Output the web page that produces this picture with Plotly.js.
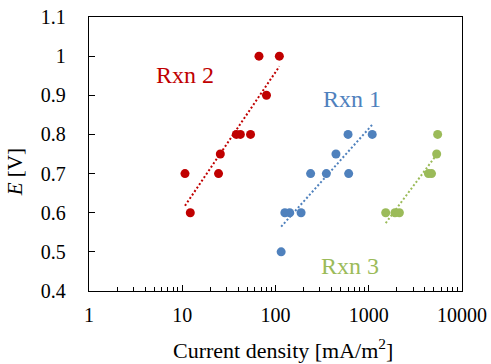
<!DOCTYPE html>
<html>
<head>
<meta charset="utf-8">
<script src="https://cdn.plot.ly/plotly-3.0.1.min.js"></script>
<style>html,body{margin:0;padding:0;background:#fff;}#chart{width:491px;height:364px;}</style>
</head>
<body>
<div id="chart"></div>
<script>
// ---- data ----
const rxn1X = [600, 1090, 445, 238, 351, 609, 126, 142, 188, 115];
const rxn1Y = [0.8, 0.8, 0.75, 0.7, 0.7, 0.7, 0.6, 0.6, 0.6, 0.5];
const rxn2X = [66.5, 110, 80, 38, 42, 54, 25.6, 10.7, 24.5, 12.2];
const rxn2Y = [1.0, 1.0, 0.9, 0.8, 0.8, 0.8, 0.75, 0.7, 0.7, 0.6];
const rxn3X = [5480, 5350, 4365, 4710, 1520, 1910, 2130];
const rxn3Y = [0.8, 0.75, 0.7, 0.7, 0.6, 0.6, 0.6];
const seriesNames = ["Rxn 1", "Rxn 2", "Rxn 3"];
const seriesColors = ["#4F81BD", "#C00000", "#9BBB59"];
const xTickVals = [1, 10, 100, 1000, 10000];
const xTickText = ["1", "10", "100", "1000", "10000"];
const yTickVals = [0.4, 0.5, 0.6, 0.7, 0.8, 0.9, 1.0, 1.1];
const yTickText = ["0.4", "0.5", "0.6", "0.7", "0.8", "0.9", "1", "1.1"];

// logarithmic trendline (E = a + b*log10(x)), least squares as in the spreadsheet
function logFit(xs, ys) {
  const lx = xs.map(v => Math.log10(v));
  const n = lx.length;
  const mx = lx.reduce((s, v) => s + v, 0) / n;
  const my = ys.reduce((s, v) => s + v, 0) / n;
  let sxy = 0, sxx = 0;
  for (let i = 0; i < n; i++) { sxy += (lx[i] - mx) * (ys[i] - my); sxx += (lx[i] - mx) ** 2; }
  const b = sxy / sxx, a = my - b * mx;
  const xmin = Math.min(...xs), xmax = Math.max(...xs);
  return { x: [xmin, xmax], y: [a + b * Math.log10(xmin), a + b * Math.log10(xmax)] };
}

const sets = [[rxn1X, rxn1Y], [rxn2X, rxn2Y], [rxn3X, rxn3Y]];
const traces = [];
sets.forEach((s, i) => {
  traces.push({
    x: s[0], y: s[1], type: 'scatter', mode: 'markers', name: seriesNames[i],
    marker: { color: seriesColors[i], size: 9 }, showlegend: false, hoverinfo: 'x+y'
  });
});
sets.forEach((s, i) => {
  const f = logFit(s[0], s[1]);
  traces.push({
    x: f.x, y: f.y, type: 'scatter', mode: 'lines', name: seriesNames[i] + ' trend',
    line: { color: seriesColors[i], width: 2, dash: '2px,2.2px' }, showlegend: false, hoverinfo: 'skip'
  });
});

const font = "'Liberation Serif', 'DejaVu Serif', serif";
const labelPos = [[0.257, 0.788], [0.705, 0.70], [0.700, 0.091]].slice();
// order matches seriesNames: Rxn 1, Rxn 2, Rxn 3
const labelXY = [[0.705, 0.70], [0.257, 0.788], [0.700, 0.091]];

const layout = {
  width: 491, height: 364,
  margin: { l: 89, r: 29, t: 17, b: 73, pad: 0 },
  paper_bgcolor: '#fff', plot_bgcolor: '#fff',
  font: { family: font, size: 20, color: '#000' },
  showlegend: false,
  xaxis: {
    type: 'log', range: [0, 4], showgrid: false, zeroline: false,
    showline: true, linecolor: '#000', linewidth: 1.3, mirror: true,
    tickmode: 'array', tickvals: xTickVals, ticktext: xTickText,
    ticks: 'inside', ticklen: 6, tickcolor: '#000', tickwidth: 1,
    ticklabelstandoff: 6,
    tickfont: { family: font, size: 20, color: '#000' },
    minor: { ticks: 'inside', ticklen: 4, tickcolor: '#000', tickwidth: 1, dtick: 'D1', showgrid: false }
  },
  yaxis: {
    range: [0.4, 1.1], showgrid: false, zeroline: false,
    showline: true, linecolor: '#000', linewidth: 1.3, mirror: true,
    tickmode: 'array', tickvals: yTickVals, ticktext: yTickText,
    ticks: 'inside', ticklen: 6, tickcolor: '#000', tickwidth: 1,
    ticklabelstandoff: 18,
    tickfont: { family: font, size: 20, color: '#000' }
  },
  annotations: [
    { text: 'Current density [mA/m<sup>2</sup>]', xref: 'paper', yref: 'paper', x: 0.52, y: -0.212,
      xanchor: 'center', yanchor: 'middle', showarrow: false, font: { family: font, size: 22, color: '#000' } },
    { text: '<i>E</i> [V]', xref: 'paper', yref: 'paper', x: -0.198, y: 0.434, textangle: -90,
      xanchor: 'center', yanchor: 'middle', showarrow: false, font: { family: font, size: 21, color: '#000' } }
  ].concat(seriesNames.map((nm, i) => ({
    text: nm, xref: 'paper', yref: 'paper', x: labelXY[i][0], y: labelXY[i][1],
    xanchor: 'center', yanchor: 'middle', showarrow: false,
    font: { family: font, size: 24, color: seriesColors[i] }
  })))
};

Plotly.newPlot('chart', traces, layout, { staticPlot: true, displayModeBar: false });
</script>
</body>
</html>
